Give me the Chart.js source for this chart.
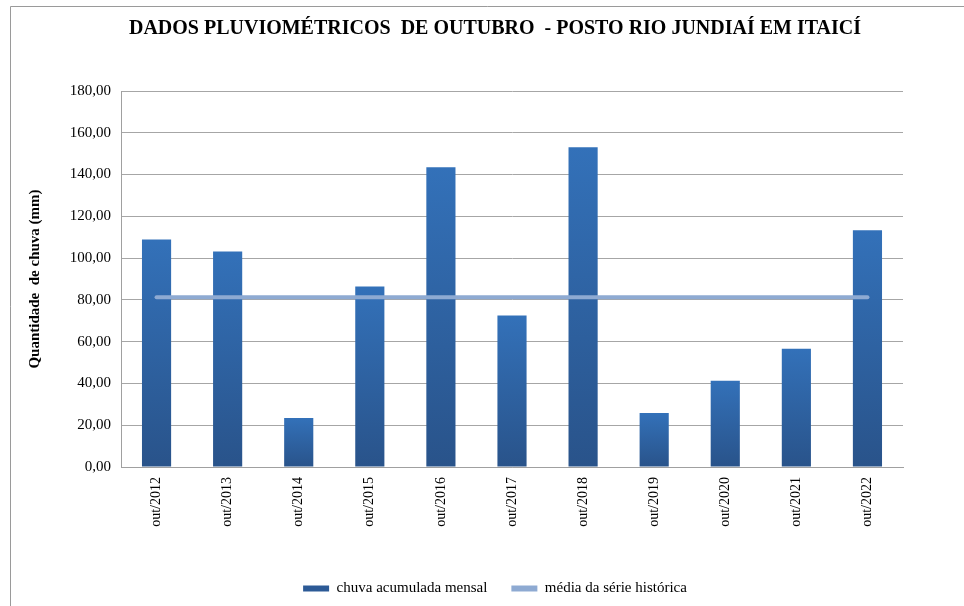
<!DOCTYPE html>
<html>
<head>
<meta charset="utf-8">
<script src="https://cdn.jsdelivr.net/npm/chart.js@4/dist/chart.umd.min.js"></script>
<style>
  body { margin: 0; background: #fff; }
  #wrap { width: 964px; height: 606px; position: relative; }
</style>
</head>
<body>
<div id="wrap"><canvas id="chuva" width="964" height="606"></canvas></div>
<script>
// dados (mm)
const labels = ["out/2012", "out/2013", "out/2014", "out/2015", "out/2016", "out/2017",
  "out/2018", "out/2019", "out/2020", "out/2021", "out/2022"];
const chuvaMensal = [108.9, 103.2, 23.5, 86.4, 143.5, 72.5, 153.1, 25.9, 41.3, 56.6, 113.3];
const mediaHistorica = [81.3, 81.3, 81.3, 81.3, 81.3, 81.3, 81.3, 81.3, 81.3, 81.3, 81.3];
const yTicks = [0, 20, 40, 60, 80, 100, 120, 140, 160, 180];

const serif = "'Liberation Serif', 'Times New Roman', serif";

// moldura cinza do grafico (so topo e esquerda aparecem)
const frame = {
  id: 'frame',
  beforeDraw(chart) {
    const c = chart.ctx;
    c.save();
    c.strokeStyle = '#9a9a9a';
    c.lineWidth = 1;
    c.beginPath();
    c.moveTo(10.5, 606);
    c.lineTo(10.5, 6.5);
    c.lineTo(964, 6.5);
    c.stroke();
    c.restore();
  }
};

function barGradient(context) {
  const chart = context.chart;
  if (!chart.chartArea) return '#2e62a3';
  const y = chart.scales.y;
  const top = y.getPixelForValue(context.raw);
  const bottom = y.getPixelForValue(0);
  const g = chart.ctx.createLinearGradient(0, top, 0, bottom);
  g.addColorStop(0, '#3371b9');
  g.addColorStop(1, '#29538a');
  return g;
}

const ctx = document.getElementById('chuva');
const chart = new Chart(ctx, {
  data: {
    labels: labels,
    datasets: [{
      type: 'line',
      label: 'média da série histórica',
      data: mediaHistorica,
      borderColor: '#8eaad2',
      backgroundColor: '#8eaad2',
      borderWidth: 4,
      borderCapStyle: 'round',
      pointRadius: 0,
      order: 0
    }, {
      type: 'bar',
      label: 'chuva acumulada mensal',
      data: chuvaMensal,
      backgroundColor: barGradient,
      barPercentage: 0.41,
      categoryPercentage: 1,
      order: 1
    }]
  },
  options: {
    responsive: false,
    animation: false,
    layout: { padding: { left: 26, right: 0, top: 0, bottom: 0 } },
    plugins: {
      title: {
        display: true,
        text: 'DADOS PLUVIOMÉTRICOS  DE OUTUBRO  - POSTO RIO JUNDIAÍ EM ITAICÍ',
        color: '#000',
        font: { family: serif, size: 20, weight: 'bold' },
        padding: { top: 17, bottom: 50 }
      },
      legend: {
        position: 'bottom',
        reverse: true,
        labels: {
          color: '#000',
          font: { family: serif, size: 15 },
          boxWidth: 26,
          boxHeight: 6,
          padding: 24,
          generateLabels(chart) {
            return chart.data.datasets.map((ds, i) => ({
              text: ds.label,
              fillStyle: ds.type === 'bar' ? '#2c5a96' : '#8eaad2',
              strokeStyle: ds.type === 'bar' ? '#2c5a96' : '#8eaad2',
              lineWidth: 0,
              datasetIndex: i
            }));
          }
        }
      },
      tooltip: { enabled: false }
    },
    scales: {
      x: {
        grid: { display: false, drawTicks: false },
        border: { color: '#a0a0a0' },
        ticks: {
          color: '#000',
          font: { family: serif, size: 14 },
          minRotation: 90,
          maxRotation: 90,
          padding: 10
        },
        afterFit(scale) { scale.height = 90; }
      },
      y: {
        min: 0,
        max: 180,
        afterBuildTicks(scale) { scale.ticks = yTicks.map(v => ({ value: v })); },
        grid: { color: '#a6a6a6', drawTicks: false },
        border: { color: '#a0a0a0' },
        ticks: {
          color: '#000',
          font: { family: serif, size: 15 },
          padding: 10,
          callback: v => v.toFixed(2).replace('.', ',')
        },
        title: {
          display: true,
          text: 'Quantidade  de chuva (mm)',
          color: '#000',
          font: { family: serif, size: 15, weight: 'bold' },
          padding: { top: 0, bottom: 10 }
        },
        afterFit(scale) { scale.width = 95; }
      },
      // eixo vazio a direita so para reservar a margem
      yRight: {
        type: 'linear',
        position: 'right',
        grid: { display: false },
        border: { display: false },
        ticks: { display: false },
        afterFit(scale) { scale.width = 61; }
      }
    }
  },
  plugins: [frame]
});
</script>
</body>
</html>
